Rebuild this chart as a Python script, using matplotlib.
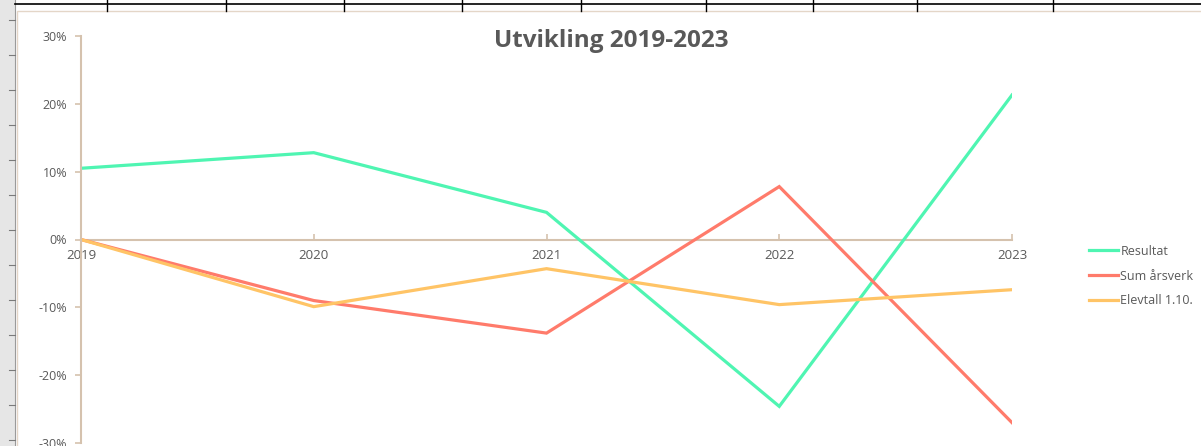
import matplotlib.pyplot as plt
from matplotlib.lines import Line2D
from matplotlib.ticker import PercentFormatter

years = ['2019', '2020', '2021', '2022', '2023']
resultat = [10.5, 12.8, 4.0, -24.6, 21.3]
sum_aarsverk = [0.0, -9.0, -13.8, 7.8, -27.0]
elevtall = [0.0, -9.9, -4.3, -9.6, -7.4]

series = [('Resultat', resultat, '#4FF5B2'),
          ('Sum årsverk', sum_aarsverk, '#FF7B6B'),
          ('Elevtall 1.10.', elevtall, '#FFC466')]

axis_col = '#D5C2AE'
text_col = '#595959'
plt.rcParams['font.family'] = ['Open Sans', 'DejaVu Sans']
plt.rcParams['axes.unicode_minus'] = False

fig = plt.figure(figsize=(12.01, 4.46), dpi=100)

# spreadsheet bits around the chart object
fig.patches.append(plt.Rectangle((0, 0), 15 / 1201, 1, transform=fig.transFigure,
                                 facecolor='#E6E6E6', edgecolor='none', zorder=-3))
fig.patches.append(plt.Rectangle((17 / 1201, -0.01), 1.0, 1 - 11 / 446 + 0.01,
                                 transform=fig.transFigure, facecolor='white',
                                 edgecolor='#E4D6C8', lw=1.0, zorder=-2))
fig.lines.append(Line2D([15 / 1201, 15 / 1201], [0, 1], transform=fig.transFigure,
                        color='#9A9A9A', lw=0.8, zorder=-1))
fig.lines.append(Line2D([15 / 1201, 1], [1 - 4 / 446, 1 - 4 / 446], transform=fig.transFigure,
                        color='black', lw=1.2, zorder=-1))
for xp in [107, 226, 344, 462, 581, 706, 813, 917, 1053]:
    fig.lines.append(Line2D([xp / 1201, xp / 1201], [1 - 11 / 446, 1], transform=fig.transFigure,
                            color='black', lw=1.0, zorder=-1))
for yp in range(20, 446, 35):
    fig.lines.append(Line2D([9 / 1201, 15 / 1201], [1 - yp / 446, 1 - yp / 446],
                            transform=fig.transFigure, color='#7A7A7A', lw=0.8, zorder=-1))

ax = fig.add_axes([81 / 1201, 3 / 446, (1012 - 81) / 1201, (443 - 36) / 446])
ax.set_zorder(1)
ax.patch.set_alpha(0)

x = list(range(len(years)))
for name, vals, col in series:
    ax.plot(x, vals, color=col, lw=2.3, label=name, solid_joinstyle='miter')

ax.set_xlim(0, len(years) - 1)
ax.set_ylim(-30, 30)
ax.set_yticks([-30, -20, -10, 0, 10, 20, 30])
ax.yaxis.set_major_formatter(PercentFormatter(decimals=0))
ax.set_xticks(x)
ax.set_xticklabels(years)

for s in ['top', 'right']:
    ax.spines[s].set_visible(False)
ax.spines['left'].set_color(axis_col)
ax.spines['left'].set_linewidth(1.5)
ax.spines['bottom'].set_position(('data', 0))
ax.spines['bottom'].set_color(axis_col)
ax.spines['bottom'].set_linewidth(1.5)
ax.spines['bottom'].set_zorder(0.5)

ax.tick_params(axis='y', colors=axis_col, labelcolor=text_col, labelsize=9,
               length=4, width=1.2, direction='out', pad=6)
ax.tick_params(axis='x', colors=axis_col, labelcolor=text_col, labelsize=9.5,
               length=4, width=1.2, direction='in', pad=7)

ax.set_title('Utvikling 2019-2023', fontsize=17.5, fontweight='bold', color=text_col,
             x=(611 - 81) / (1012 - 81), y=1.0, pad=-12, va='bottom')

leg = ax.legend(loc='center left', bbox_to_anchor=(1089 / 1201, 1 - 276 / 446),
                bbox_transform=fig.transFigure, frameon=False, fontsize=9,
                handlelength=2.3, handletextpad=0.2, labelspacing=0.95,
                borderpad=0, borderaxespad=0, labelcolor=text_col)

fig.savefig('out.png', dpi=100)
